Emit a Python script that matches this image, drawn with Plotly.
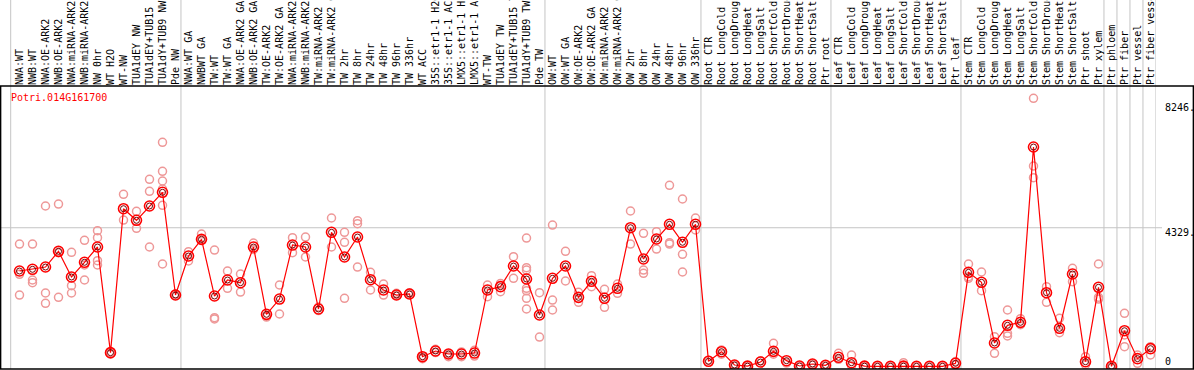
import plotly.graph_objects as go

gene = "Potri.014G161700"

labels = [
    "NWA:WT", "NWB:WT", "NWA:OE-ARK2", "NWB:OE-ARK2", "NWA:miRNA-ARK2", "NWB:miRNA-ARK2",
    "NW 0hr", "WT H2O", "WT-NW", "TUA1dEY NW", "TUA1dEY+TUB15 NW", "TUA1dY+TUB9 NW", "Pde NW",
    "NWA:WT GA", "NWBWT GA", "TW:WT", "TW:WT GA", "NWA:OE-ARK2 GA", "NWB:OE-ARK2 GA",
    "TW:OE-ARK2", "TW:OE-ARK2 GA", "NWA:miRNA-ARK2 GA", "NWB:miRNA-ARK2 GA", "TW:miRNA-ARK2",
    "TW:miRNA-ARK2 GA", "TW 2hr", "TW 8hr", "TW 24hr", "TW 48hr", "TW 96hr", "TW 336hr", "WT ACC",
    "35S::etr1-1 H2O", "35S::etr1-1 ACC", "LMX5::etr1-1 H2O", "LMX5::etr1-1 ACC", "WT-TW",
    "TUA1dEY TW", "TUA1dEY+TUB15 TW", "TUA1dY+TUB9 TW", "Pde TW",
    "OW:WT", "OW:WT GA", "OW:OE-ARK2", "OW:OE-ARK2 GA", "OW:miRNA-ARK2", "OW:miRNA-ARK2 GA",
    "OW 2hr", "OW 8hr", "OW 24hr", "OW 48hr", "OW 96hr", "OW 336hr",
    "Root CTR", "Root LongCold", "Root LongDrought", "Root LongHeat", "Root LongSalt",
    "Root ShortCold", "Root ShortDrought", "Root ShortHeat", "Root ShortSalt", "Ptr root",
    "Leaf CTR", "Leaf LongCold", "Leaf LongDrought", "Leaf LongHeat", "Leaf LongSalt",
    "Leaf ShortCold", "Leaf ShortDrought", "Leaf ShortHeat", "Leaf ShortSalt", "Ptr leaf",
    "Stem CTR", "Stem LongCold", "Stem LongDrought", "Stem LongHeat", "Stem LongSalt",
    "Stem ShortCold", "Stem ShortDrought", "Stem ShortHeat", "Stem ShortSalt", "Ptr shoot",
    "Ptr xylem", "Ptr phloem", "Ptr fiber", "Ptr vessel", "Ptr fiber vessel",
]

means = [
    2977, 3030, 3102, 3592, 2790, 3249, 3727, 426, 4924, 4561, 5008, 5436, 2227,
    3446, 3967, 2196, 2696, 2612, 3727, 1624, 2102, 3789, 3727, 1790, 4186,
    3415, 4039, 2706, 2384, 2227, 2259, 300, 478, 384, 384, 415, 2384, 2488, 3133, 2727, 1603,
    2749, 3133, 2155, 2655, 2124, 2437, 4330, 3352, 3977, 4436, 3874, 4436,
    156, 457, 41, 5, 134, 468, 176, 10, 72, 31,
    281, 113, 5, 0, 0, 5, 0, 0, 0, 94,
    2936, 2624, 728, 1281, 1374, 6851, 2300, 1187, 2884, 144, 2468, 0, 1112, 239, 551,
]

replicates = [
    [3820, 2874, 2227], [3820, 2696, 2612], [5008, 2290, 1967], [5070, 3551, 2155],
    [3561, 2519, 2290], [3936, 3165, 2696], [4236, 4018, 3300, 3165], [426, 380],
    [5373, 4570], [4842, 4311], [5842, 5467, 3727], [6998, 6092, 5789, 5539, 5030, 3196],
    [2227, 2260],
    [3580, 3290], [4133, 3967], [3633, 1518, 1480], [2977, 2437], [2884, 2321], [3852, 3650],
    [1580, 1540], [2540, 1634], [4018, 3550], [4039, 3415], [1850, 1740], [4633, 3727],
    [4186, 3874, 2124], [4549, 4456, 3102], [2936, 2384], [2571, 2227], [2280, 2227],
    [2300, 2259], [300, 240], [530, 430], [300, 384], [450, 300], [500, 320],
    [2540, 2175], [2590, 2330], [3425, 2749], [4008, 3081, 3008, 2437, 2360, 2124, 1790],
    [2300, 915],
    [4414, 2071, 1759], [3592, 2665], [2311, 1999], [2830, 2488], [2405, 1843], [2571, 2280],
    [4852, 3820], [4155, 3008, 2905], [4206, 3664], [5654, 3862, 3820], [5227, 3499, 2946],
    [4633, 4258],
    [190], [510, 380], [41], [5], [170], [718, 380], [100], [10], [72], [31],
    [406, 220], [353, 20], [5], [0], [0], [113, 0], [0], [0], [0], [150, 50],
    [3196, 2799, 2750], [2946, 2362], [925, 406], [1759, 1031, 950], [1487, 1300],
    [8372, 6257, 5893], [2488, 1999], [1499, 1050], [3062, 2644], [300, 50],
    [3196, 2155, 2100], [0], [1656, 978, 613], [353, 94], [613, 353],
]

# index of last sample in each group (vertical separators drawn after these)
group_ends = [12, 40, 52, 62, 72, 83, 84, 85, 86, 87]

ytick_vals = [0, 4329, 8246]
ytick_text = ["0", "4329.", "8246."]

FONT = "DejaVu Sans Mono"
W, H = 1194, 370
ML, MR, MT, MB = 1, 38, 86, 1
pw = W - ML - MR
ph = H - MT - MB
step = 13.0
first_px = 19.5
x0 = -(first_px - ML) / step
x1 = x0 + pw / step

xs = list(range(len(labels)))

rep_x, rep_y = [], []
for i, reps in enumerate(replicates):
    for v in reps:
        rep_x.append(i)
        rep_y.append(v)

fig = go.Figure()
fig.add_trace(go.Scatter(
    x=rep_x, y=rep_y, mode="markers",
    marker=dict(symbol="circle-open", size=8, color="#EE9898", line=dict(width=1.5)),
    hoverinfo="skip", showlegend=False,
))
fig.add_trace(go.Scatter(
    x=xs, y=means, mode="lines+markers",
    line=dict(color="#FF0000", width=1.2),
    marker=dict(symbol="circle-open", size=10, color="#FF0000", line=dict(width=1.6)),
    showlegend=False, text=labels,
))
fig.add_trace(go.Scatter(
    x=xs, y=means, mode="markers",
    marker=dict(symbol="circle-open", size=6, color="#700000", line=dict(width=1)),
    hoverinfo="skip", showlegend=False,
))

shapes = []
grey = "#C4C4C4"
top_paper = (H - MB) / ph
sep_positions = [x0 + (10.7 - ML) / step] + [g + 0.42 for g in group_ends]
for sx in sep_positions:
    shapes.append(dict(type="line", xref="x", yref="paper", x0=sx, x1=sx, y0=0, y1=top_paper,
                       line=dict(color=grey, width=1), layer="below"))
# horizontal gridline
shapes.append(dict(type="line", xref="paper", yref="y", x0=-0.01, x1=(1162 - ML) / pw,
                   y0=ytick_vals[1], y1=ytick_vals[1], line=dict(color=grey, width=1), layer="below"))
# black frame lines
blk = dict(color="black", width=1.5)
shapes.append(dict(type="line", xref="paper", yref="paper", x0=-0.01, x1=(W - ML) / pw,
                   y0=1, y1=1, line=blk))
shapes.append(dict(type="line", xref="paper", yref="paper", x0=-0.01, x1=(W - ML) / pw,
                   y0=0, y1=0, line=blk))
shapes.append(dict(type="line", xref="paper", yref="paper", x0=(0.6 - ML) / pw, x1=(0.6 - ML) / pw,
                   y0=0, y1=1, line=blk))
shapes.append(dict(type="line", xref="paper", yref="paper", x0=(W - 0.6 - ML) / pw, x1=(W - 0.6 - ML) / pw,
                   y0=0, y1=1, line=blk))

annotations = [dict(
    text=gene, xref="paper", yref="paper", x=(9 - ML) / pw, y=(H - MB - 97) / ph,
    xanchor="left", yanchor="middle", showarrow=False,
    font=dict(family=FONT, size=10, color="#FF0000"),
)]
yshifts = [4.6, -5, -5]
for v, t, s in zip(ytick_vals, ytick_text, yshifts):
    annotations.append(dict(
        text=t, xref="paper", yref="y", x=(1163 - ML) / pw, y=v, yshift=s,
        xanchor="left", yanchor="middle", showarrow=False,
        font=dict(family=FONT, size=10, color="black"),
    ))

fig.update_layout(
    width=W, height=H,
    margin=dict(l=ML, r=MR, t=MT, b=MB, autoexpand=False),
    paper_bgcolor="white", plot_bgcolor="white",
    xaxis=dict(
        range=[x0, x1], side="top", tickmode="array", tickvals=xs, ticktext=labels,
        tickangle=-90, tickfont=dict(family=FONT, size=10, color="black"),
        showgrid=False, zeroline=False, showline=False, ticks="", automargin=False,
    ),
    yaxis=dict(
        range=[-84, 8757], showgrid=False, zeroline=False, showline=False,
        showticklabels=False, ticks="", automargin=False,
    ),
    shapes=shapes, annotations=annotations,
    hovermode="closest",
)

fig.write_html(
    "out.html",
    config={"displayModeBar": False},
    post_script="document.body.style.margin='0px';document.body.style.overflow='hidden';",
)
